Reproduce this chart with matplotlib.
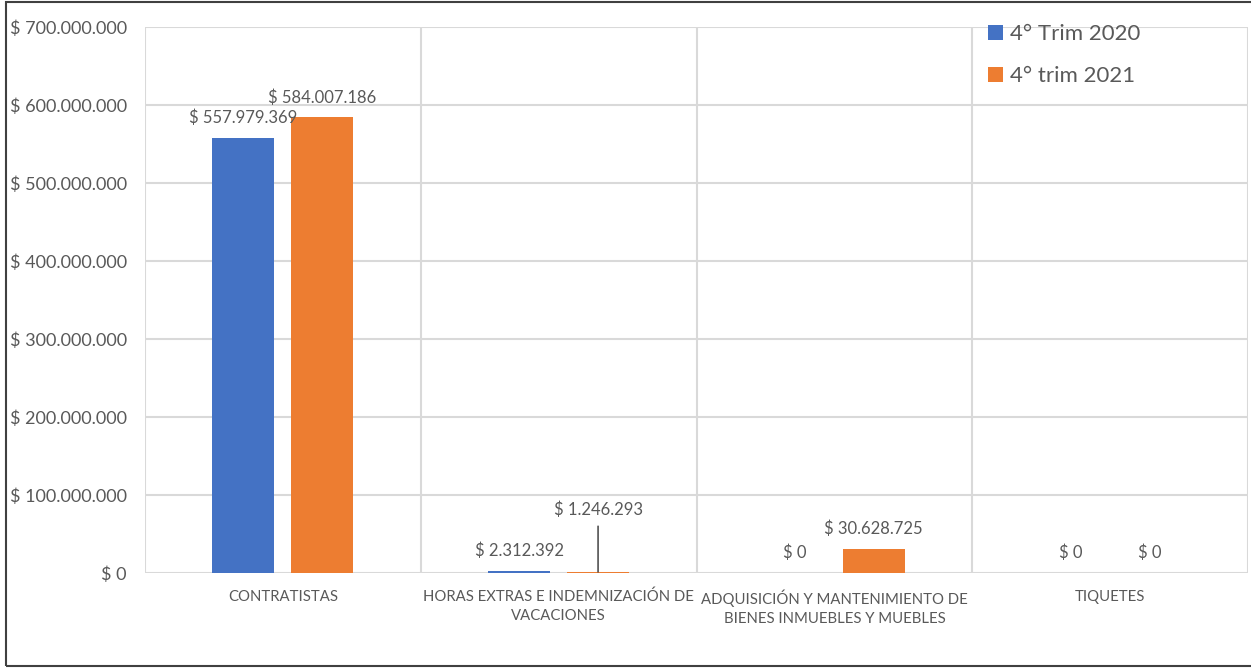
import matplotlib
matplotlib.use("Agg")
import matplotlib.pyplot as plt
from matplotlib.patches import Rectangle
import numpy as np

categories = ["CONTRATISTAS",
              "HORAS EXTRAS E INDEMNIZACIÓN DE\nVACACIONES",
              "ADQUISICIÓN Y MANTENIMIENTO DE\nBIENES INMUEBLES Y MUEBLES",
              "TIQUETES"]
series_names = ["4° Trim 2020", "4° trim 2021"]
trim_2020 = [557979369, 2312392, 0, 0]
trim_2021 = [584007186, 1246293, 30628725, 0]
labels_2020 = ["$ 557.979.369", "$ 2.312.392", "$ 0", "$ 0"]
labels_2021 = ["$ 584.007.186", "$ 1.246.293", "$ 30.628.725", "$ 0"]
yticks = [0, 100e6, 200e6, 300e6, 400e6, 500e6, 600e6, 700e6]
ytick_labels = ["$ 0", "$ 100.000.000", "$ 200.000.000", "$ 300.000.000",
                "$ 400.000.000", "$ 500.000.000", "$ 600.000.000", "$ 700.000.000"]

plt.rcParams['font.family'] = ['Lato', 'DejaVu Sans']
BLUE = "#4472C4"
ORANGE = "#ED7D31"
GRID = "#D9D9D9"
TXT = "#595959"

W, H = 1251, 668
fig = plt.figure(figsize=(W / 100, H / 100), dpi=100)
ax = fig.add_axes([145 / W, 1 - 573 / H, (1248 - 145) / W, (573 - 27) / H])

x = np.arange(len(categories))
bw = 0.225
off = 0.143
ax.bar(x - off, trim_2020, bw, color=BLUE, label=series_names[0], zorder=3)
ax.bar(x + off, trim_2021, bw, color=ORANGE, label=series_names[1], zorder=3)

ax.set_xlim(-0.5, len(categories) - 0.5)
ax.set_ylim(0, 700e6)
ax.set_yticks(yticks)
ax.set_yticklabels(ytick_labels)
ax.set_xticks(x)
ax.set_xticklabels(categories, linespacing=1.45)
ax.tick_params(axis='y', length=0, pad=13, labelsize=13, labelcolor=TXT)
ax.tick_params(axis='x', length=0, pad=12, labelsize=10.7, labelcolor=TXT)

for yv in yticks:
    ax.axhline(yv, color=GRID, lw=1.5, zorder=1)
for xv in np.arange(len(categories) + 1) - 0.5:
    ax.axvline(xv, color=GRID, lw=1.5, zorder=1)
for s in ax.spines.values():
    s.set_visible(False)

def label(xpos, val, txt, leader=False):
    if leader:
        ax.annotate(txt, xy=(xpos, val), xytext=(0, 45), textcoords='offset points',
                    ha='center', va='center', fontsize=12, color=TXT, zorder=5,
                    arrowprops=dict(arrowstyle='-', color='#303030', lw=1,
                                    shrinkA=4, shrinkB=0))
    else:
        ax.annotate(txt, xy=(xpos, val), xytext=(0, 14.5), textcoords='offset points',
                    ha='center', va='center', fontsize=12, color=TXT, zorder=5)

for i in range(len(categories)):
    label(x[i] - off, trim_2020[i], labels_2020[i])
    label(x[i] + off, trim_2021[i], labels_2021[i], leader=(i == 1))

leg = ax.legend(loc='upper left', bbox_to_anchor=(977 / W, 1 - 13 / H),
                bbox_transform=fig.transFigure, frameon=False, fontsize=16,
                handlelength=0.65, handleheight=0.65, handletextpad=0.35,
                labelspacing=1.0, borderpad=0)
for t in leg.get_texts():
    t.set_color(TXT)

fig.patches.append(Rectangle((6 / W, 1 - 666 / H), 1.0, (665 - 1) / H,
                             transform=fig.transFigure, fill=False,
                             edgecolor='#404040', lw=1.5, zorder=10))

fig.savefig("out.png", dpi=100)
